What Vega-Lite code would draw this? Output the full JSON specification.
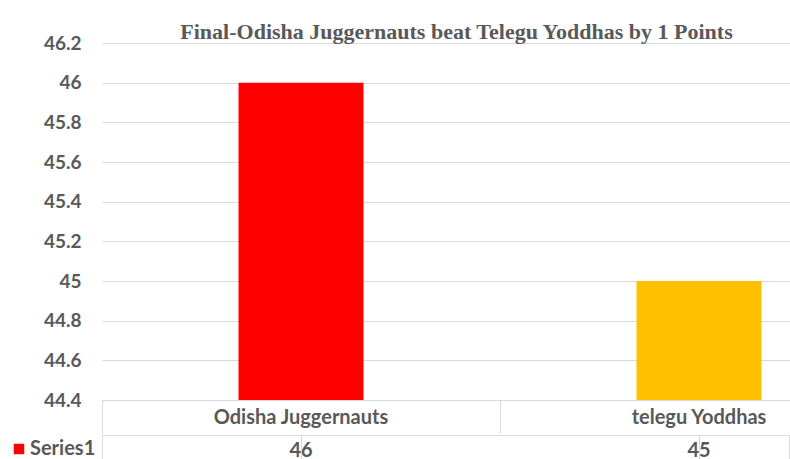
{
  "$schema": "https://vega.github.io/schema/vega-lite/v6.json",
  "background": "white",
  "padding": {"left": 4, "top": 21, "right": 0, "bottom": 0},
  "title": {
    "text": "Final-Odisha Juggernauts beat Telegu Yoddhas by 1 Points",
    "font": "Liberation Serif",
    "fontSize": 22,
    "fontWeight": "bold",
    "color": "#595959",
    "anchor": "middle",
    "offset": -10,
    "dx": 5
  },
  "data": {
    "values": [
      {"team": "Odisha Juggernauts", "points": 46, "series": "Series1"},
      {"team": "telegu Yoddhas", "points": 45, "series": "Series1"}
    ]
  },
  "spacing": 0,
  "resolve": {"scale": {"color": "independent", "x": "independent"}, "legend": {"color": "independent"}},
  "vconcat": [
    {
      "width": 687,
      "height": 357,
      "view": {"stroke": null},
      "mark": {"type": "bar", "clip": true, "width": {"band": 0.314}},
      "encoding": {
        "x": {
          "field": "team",
          "type": "nominal",
          "sort": null,
          "scale": {"range": [0, 796], "paddingInner": 0, "paddingOuter": 0},
          "axis": {
            "title": null,
            "grid": false,
            "domainColor": "#d9d9d9",
            "tickColor": "#d9d9d9",
            "bandPosition": 0,
            "tickSize": 33,
            "labelAngle": 0,
            "labelFont": "Lato",
            "labelFontSize": 20,
            "labelFontWeight": "bold",
            "labelColor": "#595959",
            "labelBaseline": "middle",
            "labelPadding": -16
          }
        },
        "y": {
          "field": "points",
          "type": "quantitative",
          "scale": {"domain": [44.4, 46.2], "zero": false, "nice": false},
          "axis": {
            "title": null,
            "values": [44.4, 44.6, 44.8, 45, 45.2, 45.4, 45.6, 45.8, 46, 46.2],
            "format": ".1~f",
            "domain": false,
            "ticks": false,
            "gridColor": "#d9d9d9",
            "labelFont": "Lato",
            "labelFontSize": 19,
            "labelFontWeight": "bold",
            "labelColor": "#595959",
            "labelPadding": 21
          }
        },
        "color": {
          "field": "team",
          "type": "nominal",
          "sort": null,
          "scale": {"range": ["#FF0000", "#FFC000"]},
          "legend": null
        }
      }
    },
    {
      "width": 687,
      "height": 26,
      "view": {"stroke": "#d9d9d9"},
      "encoding": {
        "x": {
          "field": "team",
          "type": "nominal",
          "sort": null,
          "scale": {"range": [0, 796], "paddingInner": 0, "paddingOuter": 0},
          "axis": {
            "title": null,
            "labels": false,
            "ticks": false,
            "domain": false,
            "grid": true,
            "gridColor": "#d9d9d9",
            "bandPosition": 0
          }
        }
      },
      "layer": [
        {
          "mark": {"type": "text", "font": "Lato", "fontSize": 20, "fontWeight": "bold", "dy": 3, "color": "#595959"},
          "encoding": {
            "text": {"field": "points", "type": "quantitative"}
          }
        },
        {
          "mark": {"type": "point", "shape": "square", "filled": true, "size": 0},
          "encoding": {
            "color": {
              "field": "series",
              "type": "nominal",
              "scale": {"range": ["#FF0000"]},
              "legend": {
                "title": null,
                "orient": "left",
                "symbolType": "square",
                "symbolSize": 110,
                "symbolStrokeWidth": 0,
                "symbolOpacity": 1,
                "labelOffset": 1,
                "labelFont": "Lato",
                "labelFontSize": 20,
                "labelFontWeight": "bold",
                "labelColor": "#595959",
                "offset": 2,
                "padding": 4
              }
            }
          }
        }
      ]
    }
  ]
}
